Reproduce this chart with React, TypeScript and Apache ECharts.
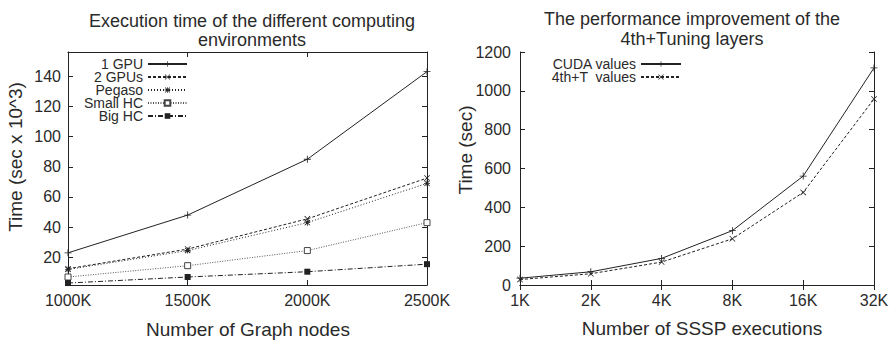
import React, { useEffect, useRef } from "react";
import * as echarts from "echarts";

const nodeCounts = [1000, 1500, 2000, 2500];
const gpu1 = [23, 48, 85, 143];
const gpu2 = [12.5, 25.5, 45.5, 72.5];
const pegaso = [12, 24.5, 43, 69];
const smallHC = [7, 14.5, 24.5, 43];
const bigHC = [3, 7, 10.5, 15.5];
const leftYTicks = [20, 40, 60, 80, 100, 120, 140];
const leftNames = ["1 GPU", "2 GPUs", "Pegaso", "Small HC", "Big HC"];

const ssspCats = ["1K", "2K", "4K", "8K", "16K", "32K"];
const cudaValues = [35, 68, 137, 280, 561, 1118];
const tunedValues = [28, 58, 118, 238, 477, 958];
const rightNames = ["CUDA values", "4th+T  values"];

const PLUS = "path://M4.4,0H5.6V4.4H10V5.6H5.6V10H4.4V5.6H0V4.4H4.4Z";
const CROSS =
  "path://M1.2,0.4L5,4.2L8.8,0.4L9.6,1.2L5.8,5L9.6,8.8L8.8,9.6L5,5.8L1.2,9.6L0.4,8.8L4.2,5L0.4,1.2Z";
const STAR =
  "path://M4.3,0H5.7V4.3H10V5.7H5.7V10H4.3V5.7H0V4.3H4.3Z M1.2,0.2L5,4L8.8,0.2L9.8,1.2L6,5L9.8,8.8L8.8,9.8L5,6L1.2,9.8L0.2,8.8L4,5L0.2,1.2Z";

const FONT = "Liberation Sans";
const INK = "#222";
const TXT = "#2a2a2a";

export default function App() {
  const ref = useRef<HTMLDivElement>(null);
  useEffect(() => {
    document.body.style.margin = "0";
    if (!ref.current) return;
    const chart = echarts.init(ref.current, undefined, { renderer: "svg" });
    const tickIn = { show: true, inside: true, length: 5, lineStyle: { color: INK, width: 1 } };
    const line = { show: true, lineStyle: { color: INK, width: 1 } };
    const lbl = { fontFamily: FONT, fontSize: 16, color: TXT };
    const mkLine = (
      name: string,
      data: any[],
      xi: number,
      yi: number,
      symbol: string,
      type: any,
      color: string,
      size: number,
      extra: any = {}
    ) => ({
      type: "line",
      name,
      data,
      xAxisIndex: xi,
      yAxisIndex: yi,
      symbol,
      symbolSize: size,
      showSymbol: true,
      lineStyle: { color, width: 1, type },
      itemStyle: { color, ...(extra.itemStyle || {}) },
      emphasis: { disabled: true },
      z: 3,
    });
    const leftData = (vals: number[]) => nodeCounts.map((x, i) => [x, vals[i]]);
    const legendText = { fontFamily: FONT, fontSize: 14, color: TXT, lineHeight: 13 };
    const mkLegend = (name: string, right: number, top: number, w: number) => ({
      data: [name],
      orient: "vertical",
      align: "right",
      right,
      top,
      itemWidth: w,
      itemHeight: 7,
      itemGap: 0,
      padding: 0,
      selectedMode: false,
      textStyle: legendText,
    });
    const text = (t: string, x: number, y: number, size: number, extra: any = {}) => ({
      type: "text",
      x,
      y,
      ...extra,
      style: {
        text: t,
        font: `${size}px ${FONT}`,
        fill: TXT,
        textAlign: "center",
        textVerticalAlign: "middle",
        lineHeight: extra.lineHeight,
      },
    });

    chart.setOption({
      animation: false,
      grid: [
        { left: 68, right: 467, top: 52, bottom: 55 },
        { left: 520, right: 20, top: 52, bottom: 55 },
      ],
      xAxis: [
        {
          gridIndex: 0,
          type: "value",
          min: 1000,
          max: 2500,
          interval: 500,
          position: "bottom",
          axisLine: line,
          axisTick: tickIn,
          splitLine: { show: false },
          axisLabel: { ...lbl, margin: 7, formatter: (v: number) => v + "K" },
        },
        {
          gridIndex: 0,
          type: "value",
          min: 1000,
          max: 2500,
          interval: 500,
          position: "top",
          axisLine: line,
          axisTick: tickIn,
          splitLine: { show: false },
          axisLabel: { show: false },
        },
        {
          gridIndex: 1,
          type: "category",
          data: ssspCats,
          boundaryGap: false,
          position: "bottom",
          axisLine: line,
          axisTick: { ...tickIn, alignWithLabel: true },
          splitLine: { show: false },
          axisLabel: { ...lbl, margin: 7 },
        },
        {
          gridIndex: 1,
          type: "category",
          data: ssspCats,
          boundaryGap: false,
          position: "top",
          axisLine: line,
          axisTick: { ...tickIn, alignWithLabel: true },
          splitLine: { show: false },
          axisLabel: { show: false },
        },
      ],
      yAxis: [
        {
          gridIndex: 0,
          type: "value",
          min: 1.7,
          max: 156,
          position: "left",
          axisLine: line,
          axisTick: { ...tickIn, customValues: leftYTicks },
          splitLine: { show: false },
          axisLabel: { ...lbl, margin: 7, customValues: leftYTicks },
        },
        {
          gridIndex: 0,
          type: "value",
          min: 1.7,
          max: 156,
          position: "right",
          axisLine: line,
          axisTick: { ...tickIn, customValues: leftYTicks },
          splitLine: { show: false },
          axisLabel: { show: false },
        },
        {
          gridIndex: 1,
          type: "value",
          min: 0,
          max: 1200,
          interval: 200,
          position: "left",
          axisLine: line,
          axisTick: tickIn,
          splitLine: { show: false },
          axisLabel: { ...lbl, margin: 9, formatter: (v: number) => String(v) },
        },
        {
          gridIndex: 1,
          type: "value",
          min: 0,
          max: 1200,
          interval: 200,
          position: "right",
          axisLine: line,
          axisTick: tickIn,
          splitLine: { show: false },
          axisLabel: { show: false },
        },
      ],
      legend: [
        ...leftNames.map((n, i) => mkLegend(n, 706, 57 + 13 * i, 39)),
        ...rightNames.map((n, i) => mkLegend(n, 212, 57 + 13 * i, 40)),
      ],
      series: [
        mkLine(leftNames[0], leftData(gpu1), 0, 0, PLUS, "solid", INK, 7),
        mkLine(leftNames[1], leftData(gpu2), 0, 0, CROSS, [3, 2], INK, 6),
        mkLine(leftNames[2], leftData(pegaso), 0, 0, STAR, [1, 2], INK, 6),
        mkLine(leftNames[3], leftData(smallHC), 0, 0, "rect", [1, 1.5], "#555", 6, {
          itemStyle: { color: "#fff", borderColor: "#444", borderWidth: 1 },
        }),
        mkLine(leftNames[4], leftData(bigHC), 0, 0, "rect", [5, 2, 1, 2], INK, 6),
        mkLine(rightNames[0], cudaValues, 2, 2, PLUS, "solid", INK, 7),
        mkLine(rightNames[1], tunedValues, 2, 2, CROSS, [3, 2], INK, 6),
      ],
      graphic: [
        text("Execution time of the different computing\nenvironments", 252, 30, 18, { lineHeight: 19 }),
        text("The performance improvement of the\n4th+Tuning layers", 692, 29, 18, { lineHeight: 20 }),
        text("Number of Graph nodes", 248, 329, 19),
        text("Number of SSSP executions", 702, 328, 19),
        text("Time (sec x 10^3)", 15, 157, 19, { rotation: Math.PI / 2 }),
        text("Time (sec)", 465, 150, 19, { rotation: Math.PI / 2 }),
      ],
    });
    return () => chart.dispose();
  }, []);
  return <div ref={ref} style={{ width: 894, height: 340 }} />;
}
